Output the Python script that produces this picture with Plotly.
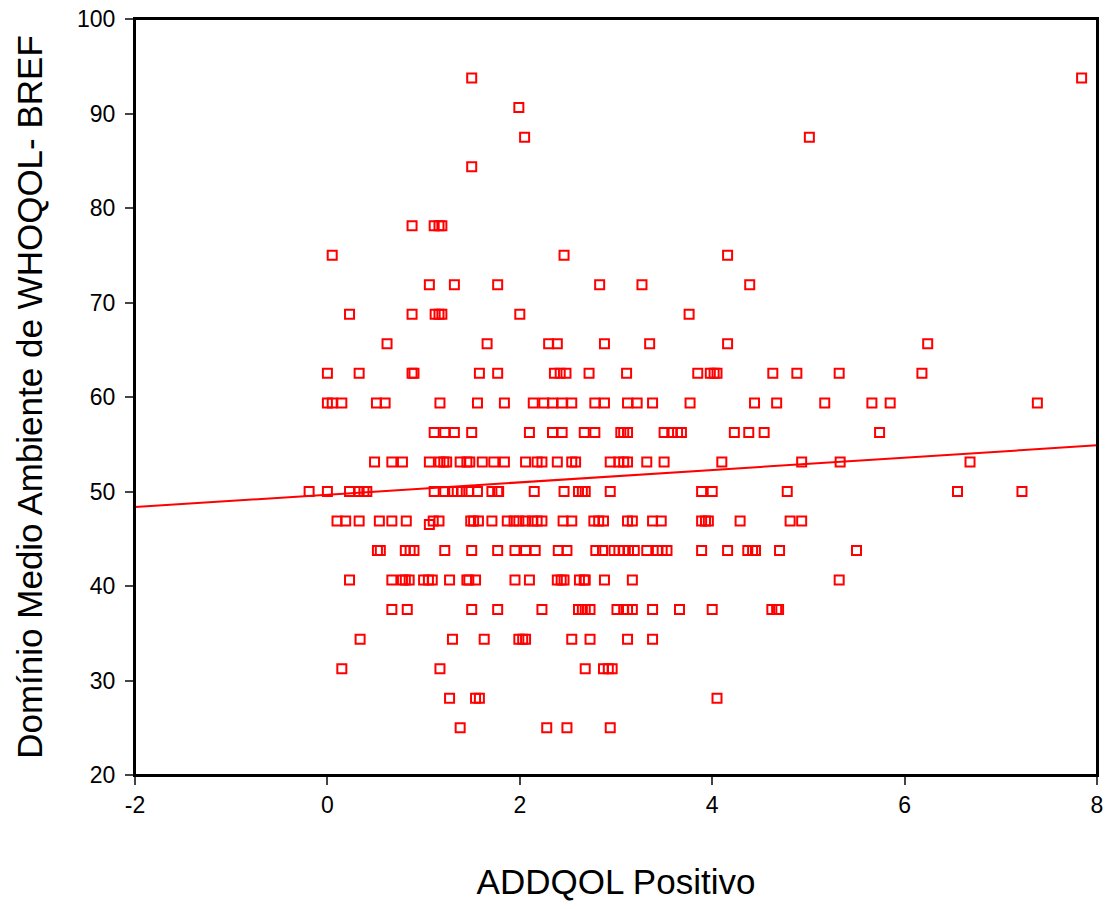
import plotly.graph_objects as go

# WHOQOL-BREF environment domain levels (y) and ADDQOL positive scores (x) per level
row_93_75 = [1.50, 7.84]
row_90_625 = [1.99]
row_87_5 = [2.05, 5.01]
row_84_375 = [1.50]
row_78_125 = [0.88, 1.11, 1.16, 1.19]
row_75 = [0.05, 2.46, 4.16]
row_71_875 = [1.06, 1.32, 1.77, 2.83, 3.27, 4.39]
row_68_75 = [0.23, 0.88, 1.12, 1.16, 1.19, 2.00, 3.76]
row_65_625 = [0.62, 1.66, 2.30, 2.39, 2.88, 3.35, 4.16, 6.24]
row_62_5 = [0.00, 0.33, 0.88, 0.90, 1.58, 1.77, 2.36, 2.42, 2.48, 2.72, 3.11,
            3.85, 3.98, 4.02, 4.05, 4.63, 4.88, 5.32, 6.18]
row_59_375 = [0.00, 0.05, 0.15, 0.51, 0.60, 1.17, 1.56, 1.84, 2.14, 2.25, 2.34,
              2.44, 2.54, 2.78, 2.88, 3.12, 3.22, 3.38, 3.77, 4.44, 4.67, 5.17,
              5.66, 5.85, 7.38]
row_56_25 = [1.11, 1.22, 1.32, 1.50, 2.10, 2.34, 2.44, 2.67, 2.78, 3.05, 3.08,
             3.12, 3.50, 3.58, 3.64, 3.68, 4.23, 4.38, 4.54, 5.74]
row_53_125 = [0.49, 0.67, 0.78, 1.06, 1.17, 1.21, 1.24, 1.38, 1.45, 1.48, 1.61,
              1.73, 1.84, 2.06, 2.18, 2.23, 2.39, 2.54, 2.58, 2.94, 3.03, 3.08,
              3.12, 3.32, 3.50, 4.10, 4.93, 5.33, 6.68]
row_50 = [-0.19, 0.00, 0.23, 0.33, 0.38, 0.41, 1.11, 1.22, 1.30, 1.35, 1.40,
          1.47, 1.56, 1.71, 1.77, 1.78, 2.15, 2.46, 2.61, 2.65, 2.68, 2.94,
          3.89, 4.00, 4.78, 6.55, 7.22]
row_46_875 = [0.10, 0.19, 0.33, 0.54, 0.67, 0.82, 1.10, 1.16, 1.49, 1.52, 1.57,
              1.71, 1.87, 1.94, 1.99, 2.06, 2.13, 2.18, 2.23, 2.45, 2.54, 2.77,
              2.82, 2.87, 3.12, 3.17, 3.38, 3.47, 3.89, 3.93, 3.96, 4.29, 4.81,
              4.93]
row_46_5 = [1.06]
row_43_75 = [0.52, 0.55, 0.81, 0.86, 0.90, 1.22, 1.50, 1.77, 1.95, 2.06, 2.16,
             2.40, 2.49, 2.79, 2.86, 2.98, 3.03, 3.08, 3.13, 3.19, 3.32, 3.43,
             3.48, 3.53, 3.89, 4.16, 4.37, 4.42, 4.45, 4.70, 5.50]
row_40_625 = [0.23, 0.67, 0.78, 0.81, 0.85, 1.00, 1.05, 1.09, 1.27, 1.45, 1.47,
              1.54, 1.95, 2.10, 2.39, 2.43, 2.46, 2.62, 2.67, 2.68, 2.88, 3.17,
              5.32]
row_37_5 = [0.67, 0.83, 1.50, 1.77, 2.23, 2.61, 2.65, 2.68, 2.73, 3.01, 3.08,
            3.12, 3.17, 3.38, 3.66, 4.00, 4.62, 4.67, 4.69]
row_34_375 = [0.34, 1.30, 1.63, 1.99, 2.03, 2.06, 2.54, 2.73, 3.12, 3.38]
row_31_25 = [0.15, 1.17, 2.68, 2.87, 2.92, 2.96]
row_28_125 = [1.27, 1.54, 1.58, 4.05]
row_25 = [1.38, 2.28, 2.49, 2.94]

levels = [93.75, 90.625, 87.5, 84.375, 78.125, 75, 71.875, 68.75, 65.625, 62.5,
          59.375, 56.25, 53.125, 50, 46.875, 46.5, 43.75, 40.625, 37.5, 34.375,
          31.25, 28.125, 25]
rows = [row_93_75, row_90_625, row_87_5, row_84_375, row_78_125, row_75,
        row_71_875, row_68_75, row_65_625, row_62_5, row_59_375, row_56_25,
        row_53_125, row_50, row_46_875, row_46_5, row_43_75, row_40_625,
        row_37_5, row_34_375, row_31_25, row_28_125, row_25]

# Linear fit line
fit_intercept = 49.66
fit_slope = 0.653
x_range = [-2, 8]
y_range = [20, 100]
x_ticks = [-2, 0, 2, 4, 6, 8]
x_tick_labels = ["-2", "0", "2", "4", "6", "8"]
y_ticks = [20, 30, 40, 50, 60, 70, 80, 90, 100]

xs, ys = [], []
for lev, r in zip(levels, rows):
    xs.extend(r)
    ys.extend([lev] * len(r))

red = "#ff0000"
fig = go.Figure()
fig.add_trace(go.Scatter(
    x=x_range, y=[fit_intercept + fit_slope * v for v in x_range],
    mode="lines", line=dict(color=red, width=2), showlegend=False, hoverinfo="skip"))
fig.add_trace(go.Scatter(
    x=xs, y=ys, mode="markers",
    marker=dict(symbol="square-open", size=9, color=red, line=dict(color=red, width=2)),
    showlegend=False, cliponaxis=False))

# page body has an 8px default margin, so the figure is sized to fit inside it
font_family = "Liberation Sans, Arial, sans-serif"
fig.update_layout(
    width=1096, height=893,
    margin=dict(l=127, r=7, t=11, b=126),
    paper_bgcolor="white", plot_bgcolor="white",
    font=dict(family=font_family, color="black", size=23),
    shapes=[dict(type="rect", xref="paper", yref="paper", x0=0, x1=1, y0=0, y1=1,
                 line=dict(color="black", width=2), fillcolor="rgba(0,0,0,0)",
                 layer="above")],
)
fig.update_xaxes(
    range=x_range, tickvals=x_ticks, ticktext=x_tick_labels, ticks="outside",
    ticklen=8, tickwidth=2, automargin=False, ticklabeloverflow="allow",
    showline=True, linewidth=2, linecolor="black", mirror=True,
    showgrid=False, zeroline=False, tickfont=dict(size=23),
    title=dict(text="ADDQOL Positivo", font=dict(size=35), standoff=55),
)
fig.update_yaxes(
    range=y_range, tickvals=y_ticks, ticks="outside", ticklen=8, tickwidth=2,
    ticklabelstandoff=5, automargin=False, ticklabeloverflow="allow",
    showline=True, linewidth=2, linecolor="black", mirror=True,
    showgrid=False, zeroline=False, tickfont=dict(size=23),
    title=dict(text="Domínio Medio Ambiente de WHOQOL- BREF", font=dict(size=35), standoff=24),
)
fig.write_html("out.html")
